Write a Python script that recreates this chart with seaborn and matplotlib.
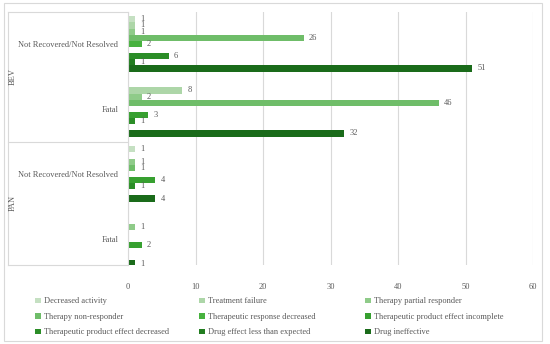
import pandas as pd
import matplotlib
matplotlib.use("Agg")
import matplotlib.pyplot as plt
import seaborn as sns
from matplotlib.patches import Rectangle
from matplotlib.lines import Line2D

# Данные графика
series = ["Decreased activity", "Treatment failure", "Therapy partial responder",
          "Therapy non-responder", "Therapeutic response decreased",
          "Therapeutic product effect incomplete", "Therapeutic product effect decreased",
          "Drug effect less than expected", "Drug ineffective"]
groups = ["BEV", "BEV", "PAN", "PAN"]
outcomes = ["Not Recovered/Not Resolved", "Fatal", "Not Recovered/Not Resolved", "Fatal"]

bev_nr = [1, 1, 1, 26, 2, None, 6, 1, 51]
bev_fatal = [None, 8, 2, 46, None, 3, 1, None, 32]
pan_nr = [1, None, 1, 1, None, 4, 1, None, 4]
pan_fatal = [None, None, 1, None, None, 2, None, None, 1]

colors = ["#c5e0c2", "#add6a8", "#8fcb89", "#6fbd69", "#47b23f",
          "#37a030", "#2b8d27", "#227d20", "#1a6b1a"]

rows = []
for i, vals in enumerate([bev_nr, bev_fatal, pan_nr, pan_fatal]):
    for s, v in zip(series, vals):
        if v is not None:
            rows.append({"cat": f"{groups[i]}|{outcomes[i]}", "series": s, "value": v})
df = pd.DataFrame(rows)
cat_order = [f"{g}|{o}" for g, o in zip(groups, outcomes)]

plt.rcParams["font.family"] = ["Liberation Serif", "DejaVu Serif"]
gray = "#595959"
fs = 6

fig = plt.figure(figsize=(5.5, 3.44), dpi=100)
ax = fig.add_axes([128 / 550, 1 - 265 / 344, (533 - 128) / 550, (265 - 12) / 344])

sns.barplot(data=df, y="cat", x="value", hue="series", order=cat_order,
            hue_order=series, palette=colors, saturation=1, orient="h", width=0.85,
            linewidth=0, ax=ax, legend=True)

for c in ax.containers:
    ax.bar_label(c, padding=4, fontsize=fs, color=gray)

ax.set_xlim(0, 60)
ax.set_ylim(3.4, -0.49)
ax.set_xticks(range(0, 61, 10))
ax.xaxis.grid(True, color="#d9d9d9", linewidth=0.8)
ax.set_axisbelow(True)
for s in ax.spines.values():
    s.set_visible(False)
ax.set_xlabel("")
ax.set_ylabel("")
ax.tick_params(axis="both", length=0, labelsize=fs, labelcolor=gray)
ax.tick_params(axis="x", pad=13)
ax.tick_params(axis="y", pad=7)
ax.set_yticks(range(4))
ax.set_yticklabels(outcomes)

# Рамки мультиуровневой оси категорий
lc = "#d9d9d9"
x0 = 8 / 550
x1 = 128 / 550
for yy in [12, 142, 265]:
    fig.add_artist(Line2D([x0, x1], [1 - yy / 344] * 2, color=lc, linewidth=0.8))
fig.add_artist(Line2D([x0, x0], [1 - 12 / 344, 1 - 265 / 344], color=lc, linewidth=0.8))
fig.add_artist(Line2D([x1, x1], [1 - 12 / 344, 1 - 265 / 344], color=lc, linewidth=0.8))
fig.text(13 / 550, 1 - 77 / 344, "BEV", rotation=90, ha="center", va="center",
         fontsize=fs, color=gray)
fig.text(13 / 550, 1 - 203 / 344, "PAN", rotation=90, ha="center", va="center",
         fontsize=fs, color=gray)

# Легенда построчно, три колонки
handles, labels = ax.get_legend_handles_labels()
ax.get_legend().remove()
for col, xpos in enumerate([32, 196, 362]):
    idx = [col, col + 3, col + 6]
    fig.legend([handles[i] for i in idx], [labels[i] for i in idx], ncol=1,
               loc="upper left", bbox_to_anchor=(xpos / 550, 1 - 294 / 344),
               frameon=False, fontsize=fs, labelcolor=gray, borderaxespad=0,
               handlelength=0.7, handleheight=0.7, handletextpad=0.4,
               labelspacing=0.9)

fig.add_artist(Rectangle((4 / 550, 3 / 344), 538 / 550, 338 / 344,
                         fill=False, edgecolor="#d9d9d9", linewidth=0.8,
                         transform=fig.transFigure))

fig.savefig("out.png", dpi=100)
